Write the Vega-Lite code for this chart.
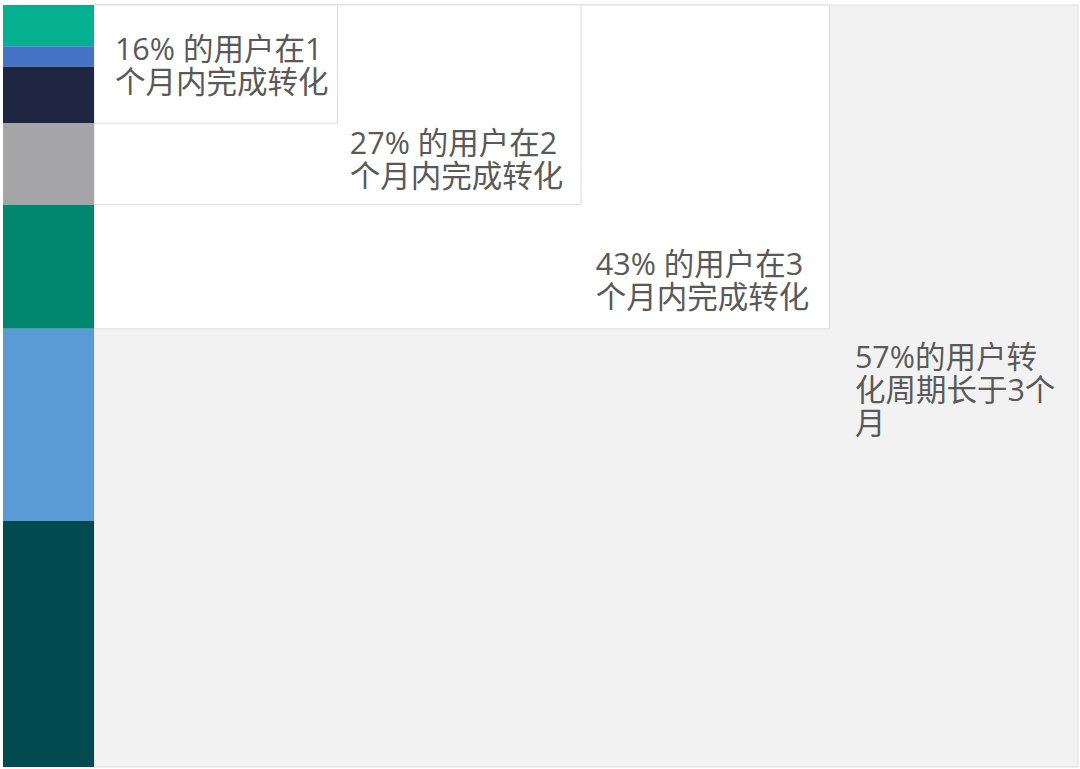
{
  "$schema": "https://vega.github.io/schema/vega-lite/v6.json",
  "description": "Share of users converting within 1, 2, 3 months and beyond",
  "width": 1075,
  "height": 762,
  "autosize": {"type": "none"},
  "padding": {"left": 3, "top": 5, "right": 2, "bottom": 2},
  "background": "white",
  "config": {"view": {"stroke": null}},
  "datasets": {
    "bar": [
      {"seg": "a", "left": -0.37, "right": 0, "from": 0, "to": 5.4},
      {"seg": "b", "left": -0.37, "right": 0, "from": 5.4, "to": 8.1},
      {"seg": "c", "left": -0.37, "right": 0, "from": 8.1, "to": 15.5},
      {"seg": "d", "left": -0.37, "right": 0, "from": 15.5, "to": 26.2},
      {"seg": "e", "left": -0.37, "right": 0, "from": 26.2, "to": 42.5},
      {"seg": "f", "left": -0.37, "right": 0, "from": 42.5, "to": 67.7},
      {"seg": "g", "left": -0.37, "right": 0, "from": 67.7, "to": 100}
    ],
    "boxes": [
      {"group": "all", "start": 0, "months": 4, "top": 0, "share": 100},
      {"group": "m3", "start": 0, "months": 2.99, "top": 0, "share": 42.5},
      {"group": "m2", "start": 0, "months": 1.98, "top": 0, "share": 26.2},
      {"group": "m1", "start": 0, "months": 0.99, "top": 0, "share": 15.5}
    ],
    "labels": [
      {"lx": 0.085, "ly": 7.2, "label": "16% 的用户在1\n个月内完成转化"},
      {"lx": 1.04, "ly": 19.55, "label": "27% 的用户在2\n个月内完成转化"},
      {"lx": 2.04, "ly": 35.43, "label": "43% 的用户在3\n个月内完成转化"},
      {"lx": 3.093, "ly": 47.64, "label": "57%的用户转\n化周期长于3个\n月"}
    ]
  },
  "resolve": {"scale": {"color": "independent", "fill": "independent"}},
  "encoding": {
    "x": {"type": "quantitative", "scale": {"domain": [-0.37, 4], "nice": false, "zero": false}, "axis": null},
    "y": {"type": "quantitative", "scale": {"domain": [0, 100], "reverse": true, "nice": false, "zero": false}, "axis": null}
  },
  "layer": [
    {
      "data": {"name": "boxes"},
      "mark": {"type": "rect", "stroke": "#dedede", "strokeWidth": 1},
      "encoding": {
        "x": {"field": "start", "type": "quantitative"},
        "x2": {"field": "months"},
        "y": {"field": "top", "type": "quantitative"},
        "y2": {"field": "share"},
        "fill": {
          "field": "group",
          "type": "nominal",
          "scale": {"domain": ["all", "m3", "m2", "m1"], "range": ["#f2f2f2", "#ffffff", "#ffffff", "#ffffff"]},
          "legend": null
        }
      }
    },
    {
      "data": {"name": "bar"},
      "mark": {"type": "rect"},
      "encoding": {
        "x": {"field": "left", "type": "quantitative"},
        "x2": {"field": "right"},
        "y": {"field": "from", "type": "quantitative"},
        "y2": {"field": "to"},
        "color": {
          "field": "seg",
          "type": "nominal",
          "scale": {
            "domain": ["a", "b", "c", "d", "e", "f", "g"],
            "range": ["#04b090", "#4472c4", "#1f2642", "#a5a5a8", "#018670", "#5b9bd5", "#034b50"]
          },
          "legend": null
        }
      }
    },
    {
      "data": {"name": "labels"},
      "mark": {
        "type": "text",
        "align": "left",
        "baseline": "alphabetic",
        "lineBreak": "\n",
        "lineHeight": 33,
        "font": "'Open Sans', 'Noto Sans CJK SC'",
        "fontSize": 30.5,
        "color": "#595959"
      },
      "encoding": {
        "x": {"field": "lx", "type": "quantitative"},
        "y": {"field": "ly", "type": "quantitative"},
        "text": {"field": "label"}
      }
    }
  ]
}
